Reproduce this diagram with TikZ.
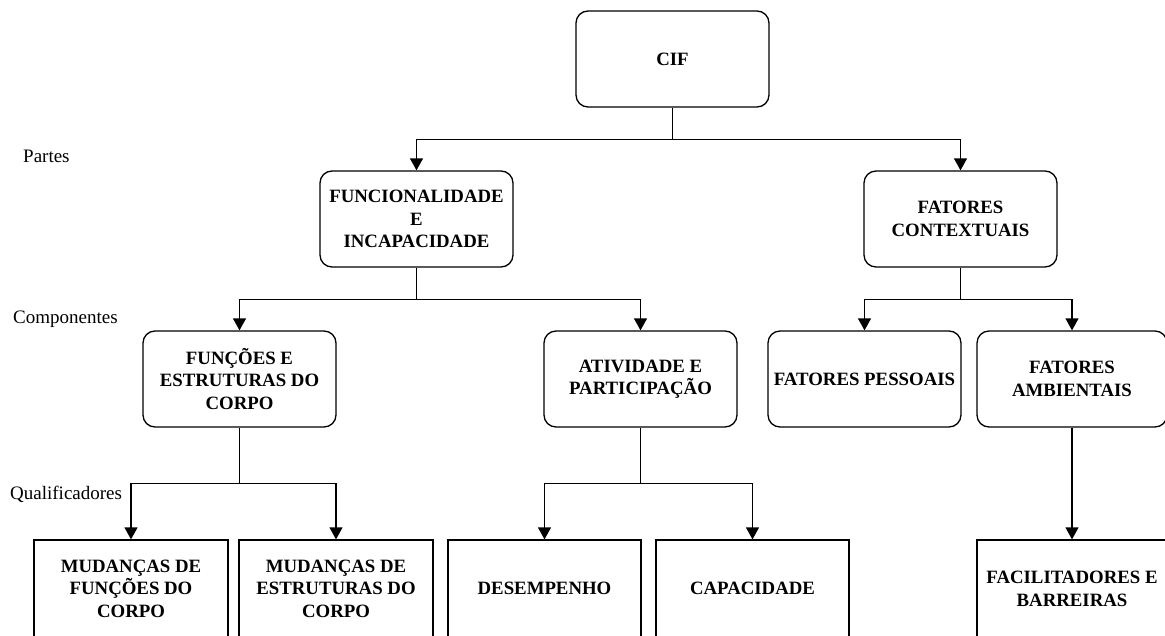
\documentclass[tikz,border=0pt]{standalone}
\usepackage{fontspec}
\setmainfont{Liberation Serif}
\usetikzlibrary{arrows.meta}
\begin{document}
\begin{tikzpicture}[x=1pt,y=-1pt,
  box/.style={draw, line width=1.3pt, minimum width=193pt, minimum height=96pt, inner sep=2pt,
    align=center, font=\fontsize{18.8}{22.5}\selectfont\bfseries},
  rbox/.style={box, rounded corners=12pt},
  sbox/.style={box, minimum height=102pt},
  lbl/.style={anchor=base west, inner sep=0pt, font=\fontsize{19}{22}\selectfont},
  ln/.style={line width=1.3pt},
  arr/.style={ln, -{Triangle[length=12pt,width=13pt]}}]
\useasboundingbox (0,0) rectangle (1165,635);
\clip (0,0) rectangle (1165,635);
% level 0
\node[rbox] (cif) at (672.5,59) {CIF};
% level 1
\node[rbox] (func) at (416.5,219) {FUNCIONALIDADE\\E\\INCAPACIDADE};
\node[rbox] (fc) at (960.5,219) {FATORES\\CONTEXTUAIS};
% level 2
\node[rbox] (fun) at (239.5,379) {FUNÇÕES E\\ESTRUTURAS DO\\CORPO};
\node[rbox] (ativ) at (640.5,379) {ATIVIDADE E\\PARTICIPAÇÃO};
\node[rbox] (pess) at (864.5,379) {FATORES PESSOAIS};
\node[rbox, minimum width=190pt] (amb) at (1072,379) {FATORES\\AMBIENTAIS};
% level 3
\node[sbox, minimum width=194pt] (mud1) at (131,591) {MUDANÇAS DE\\FUNÇÕES DO\\CORPO\\[-18pt]};
\node[sbox, minimum width=194pt] (mud2) at (336,591) {MUDANÇAS DE\\ESTRUTURAS DO\\CORPO\\[-18pt]};
\node[sbox] (des) at (544.5,591) {DESEMPENHO\\[-18pt]};
\node[sbox] (cap) at (752.5,591) {CAPACIDADE\\[-18pt]};
\node[sbox, minimum width=190pt] (fac) at (1072,591) {FACILITADORES E\\BARREIRAS\\[-18pt]};
% labels
\node[lbl] (partes) at (23,162) {Partes};
\node[lbl] (comp) at (13,323) {Componentes};
\node[lbl] (qual) at (10,499) {Qualificadores};
% connectors
\draw[ln] (cif.south) -- ++(0,32) coordinate (j1);
\draw[arr] (j1) -| (func.north);
\draw[arr] (j1) -| (fc.north);
\draw[ln] (func.south) -- ++(0,32) coordinate (j2);
\draw[arr] (j2) -| (fun.north);
\draw[arr] (j2) -| (ativ.north);
\draw[ln] (fc.south) -- ++(0,32) coordinate (j3);
\draw[arr] (j3) -| (pess.north);
\draw[arr] (j3) -| (amb.north);
\draw[ln] (fun.south) -- ++(0,56) coordinate (j4);
\draw[arr] (j4) -| (mud1.north);
\draw[arr] (j4) -| (mud2.north);
\draw[ln] (ativ.south) -- ++(0,56) coordinate (j5);
\draw[arr] (j5) -| (des.north);
\draw[arr] (j5) -| (cap.north);
\draw[arr] (amb.south) -- (fac.north);
\end{tikzpicture}
\end{document}
